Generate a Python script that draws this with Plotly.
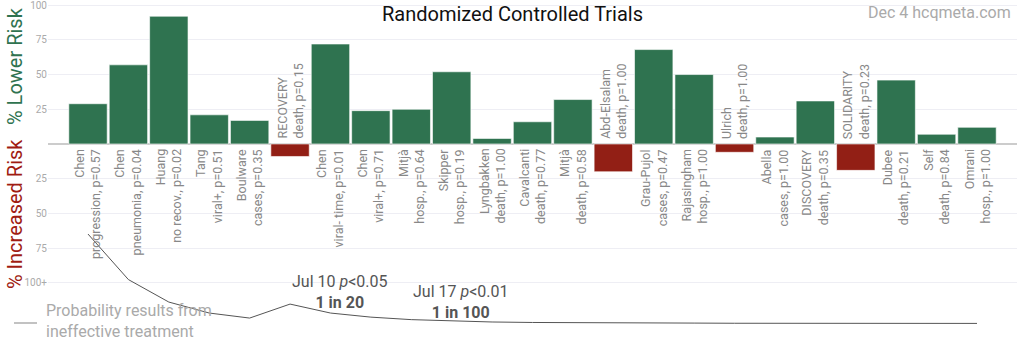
import plotly.graph_objects as go

# Trial results: author, outcome, p-value, % effect (positive = lower risk)
authors = ["Chen", "Chen", "Huang", "Tang", "Boulware", "RECOVERY", "Chen", "Chen",
           "Mitjà", "Skipper", "Lyngbakken", "Cavalcanti", "Mitjà", "Abd-Elsalam",
           "Grau-Pujol", "Rajasingham", "Ulrich", "Abella", "DISCOVERY", "SOLIDARITY",
           "Dubee", "Self", "Omrani"]
outcomes = ["progression", "pneumonia", "no recov.", "viral+", "cases", "death",
            "viral- time", "viral+", "hosp.", "hosp.", "death", "death", "death",
            "death", "cases", "hosp.", "death", "cases", "death", "death", "death",
            "death", "hosp."]
pvalues = ["0.57", "0.04", "0.02", "0.51", "0.35", "0.15", "0.01", "0.71", "0.64",
           "0.19", "1.00", "0.77", "0.58", "1.00", "0.47", "1.00", "1.00", "1.00",
           "0.35", "0.23", "0.21", "0.84", "1.00"]
effects = [29, 57, 92, 21, 17, -9, 72, 24, 25, 52, 4, 16, 32, -20, 68, 50, -6, 5,
           31, -19, 46, 7, 12]

# Cumulative probability that results arise from an ineffective treatment
prob_ineffective = [0.57, 0.28, 0.137, 0.067, 0.035, 0.124, 0.067, 0.041, 0.025,
                    0.016, 0.010, 0.007, 0.005, 0.004, 0.003, 0.003, 0.002, 0.002,
                    0.002, 0.001, 0.001, 0.001, 0.001]

# Y tick labels (risk magnitude, both directions)
tick_vals = [100, 75, 50, 25, -25, -50, -75, -100]
tick_text = ["100", "75", "50", "25", "25", "50", "75", "100+"]

GREEN = "#2f7350"
RED = "#921f15"
FONT = "Roboto"

W, H = 1024, 341
ML, MR = 48, 7
PW = W - ML - MR


def px_x(p):
    return (p - ML) / PW


def px_y(p):
    return 1 - p / H


x = list(range(len(authors)))
colors = [GREEN if v >= 0 else RED for v in effects]

fig = go.Figure()
fig.add_trace(go.Bar(
    x=x, y=effects, marker=dict(color=colors, line=dict(color="rgba(255,255,255,0.6)", width=1)),
    showlegend=False, hoverinfo="skip",
))
fig.add_trace(go.Scatter(
    x=x, y=prob_ineffective, yaxis="y2", mode="lines",
    line=dict(color="#555555", width=1), showlegend=False, hoverinfo="skip",
))

annotations = []
for i, (a, o, p, v) in enumerate(zip(authors, outcomes, pvalues, effects)):
    text = f"{a}<br>{o}, p={p}"
    if v >= 0:
        annotations.append(dict(x=i, y=0, xref="x", yref="y", text=text, textangle=-90,
                                showarrow=False, xanchor="center", yanchor="top",
                                align="right", yshift=-3,
                                font=dict(family=FONT, size=12.5, color="#888888")))
    else:
        annotations.append(dict(x=i, y=0, xref="x", yref="y", text=text, textangle=-90,
                                showarrow=False, xanchor="center", yanchor="bottom",
                                align="left", yshift=3,
                                font=dict(family=FONT, size=12.5, color="#888888")))

# Significance milestones on the probability curve
annotations.append(dict(x=5, y=px_y(292), xref="x", yref="paper",
                        text="Jul 10 <i>p</i><0.05<br><b>1 in 20</b>",
                        showarrow=False, xanchor="left", yanchor="middle", align="center",
                        font=dict(family=FONT, size=16, color="#555555")))
annotations.append(dict(x=8, y=px_y(302), xref="x", yref="paper",
                        text="Jul 17 <i>p</i><0.01<br><b>1 in 100</b>",
                        showarrow=False, xanchor="left", yanchor="middle", align="center",
                        font=dict(family=FONT, size=16, color="#555555")))

# Axis titles
annotations.append(dict(x=px_x(15), y=px_y(66), xref="paper", yref="paper",
                        text="% Lower Risk", textangle=-90, showarrow=False,
                        xanchor="center", yanchor="middle",
                        font=dict(family=FONT, size=20, color=GREEN)))
annotations.append(dict(x=px_x(15), y=px_y(214), xref="paper", yref="paper",
                        text="% Increased Risk", textangle=-90, showarrow=False,
                        xanchor="center", yanchor="middle",
                        font=dict(family=FONT, size=20, color="#a01c12")))

# Title and source
annotations.append(dict(x=px_x(512), y=px_y(14), xref="paper", yref="paper",
                        text="Randomized Controlled Trials", showarrow=False,
                        xanchor="center", yanchor="middle",
                        font=dict(family=FONT, size=20, color="#111111")))
annotations.append(dict(x=px_x(1013), y=px_y(13), xref="paper", yref="paper",
                        text="Dec 4 hcqmeta.com", showarrow=False,
                        xanchor="right", yanchor="middle",
                        font=dict(family=FONT, size=16, color="#aaaaaa")))

# Legend for the probability curve
annotations.append(dict(x=px_x(44), y=px_y(320.5), xref="paper", yref="paper",
                        text="Probability results from<br>ineffective treatment",
                        showarrow=False, xanchor="left", yanchor="middle", align="left",
                        font=dict(family=FONT, size=16, color="#aaaaaa")))

shapes = [dict(type="line", xref="paper", yref="paper",
               x0=px_x(14), x1=px_x(37), y0=px_y(323), y1=px_y(323),
               line=dict(color="#999999", width=1.2))]

fig.update_layout(
    width=W, height=H,
    margin=dict(l=ML, r=MR, t=0, b=0),
    paper_bgcolor="white", plot_bgcolor="white",
    bargap=0.05,
    xaxis=dict(range=[-0.99, 22.99], showgrid=False, zeroline=False,
               showticklabels=False, ticks=""),
    yaxis=dict(range=[-141.9, 103.7], tickvals=tick_vals, ticktext=tick_text,
               showgrid=True, gridcolor="#eeeef4", gridwidth=1,
               zeroline=True, zerolinecolor="#cccccc", zerolinewidth=2,
               ticklabeloverflow="allow",
               tickfont=dict(family=FONT, size=10, color="#aaaaaa"), ticks=""),
    yaxis2=dict(range=[-0.111, 2.06], overlaying="y", showgrid=False,
                zeroline=False, showticklabels=False),
    annotations=annotations,
    shapes=shapes,
    showlegend=False,
)

fig.write_html("out.html")
